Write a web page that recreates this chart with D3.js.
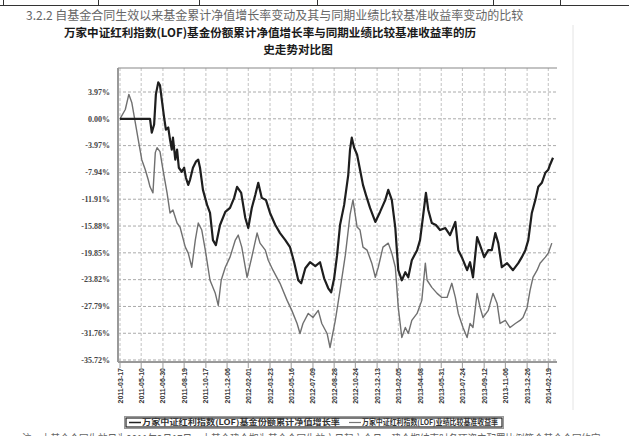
<!DOCTYPE html>
<html>
<head>
<meta charset="utf-8">
<script src="https://cdn.jsdelivr.net/npm/d3@7"></script>
<style>
  body { margin: 0; background: #fff; }
  svg { display: block; }
</style>
</head>
<body>
<script>
// axis ticks
const yTicks = [3.97, 0, -3.97, -7.94, -11.91, -15.88, -19.85, -23.82, -27.79, -31.76, -35.72];
const yTickLabels = ["3.97%", "0.00%", "-3.97%", "-7.94%", "-11.91%", "-15.88%", "-19.85%", "-23.82%", "-27.79%", "-31.76%", "-35.72%"];
const xTickDays = [0, 36, 73, 109, 146, 182, 218, 255, 291, 328, 364, 400, 437, 473, 510, 546, 582, 619, 655, 692, 728];
const xTickLabels = ["2011-03-17", "2011-05-10", "2011-06-30", "2011-08-19", "2011-10-17", "2011-12-06",
  "2012-02-01", "2012-03-23", "2012-05-16", "2012-07-09", "2012-08-28", "2012-10-24", "2012-12-13",
  "2013-02-05", "2013-04-08", "2013-05-31", "2013-07-24", "2013-09-12", "2013-11-06", "2013-12-26", "2014-02-19"];

// fund cumulative NAV growth (%), by trading day
const fundDays = [0, 51, 54, 58, 61, 65, 68, 71, 75, 78, 82, 85, 88, 90, 94, 97, 100, 105, 109, 112, 116, 119, 124, 129, 133, 136,
  141, 148, 153, 158, 163, 170, 179, 187, 194, 199, 206, 213, 218, 224, 230, 235, 241, 248, 255, 264, 272, 281, 289, 296,
  303, 308, 315, 323, 332, 340, 347, 354, 359, 364, 369, 374, 381, 388, 391, 394, 398, 403, 408, 413, 418, 425, 434, 442,
  451, 456, 462, 468, 473, 479, 485, 490, 496, 505, 510, 515, 520, 524, 530, 537, 544, 553, 561, 570, 575, 581, 590, 595,
  600, 607, 612, 619, 626, 632, 638, 643, 649, 658, 668, 677, 683, 689, 694, 700, 706, 711, 717, 723, 728, 731, 736];
const fundValues = [0, 0, -2.04, -0.85, 3.62, 5.40, 4.96, 2.87, 0.19, -1.59, -1.29, -3.08, -4.57, -2.79, -6.05, -4.57, -7.25,
  -7.84, -7.25, -8.73, -9.78, -9.03, -7.25, -6.35, -6.05, -7.25, -10.52, -12.75, -13.94, -17.96, -18.71, -15.73, -13.79,
  -13.20, -11.71, -10.07, -10.97, -14.69, -16.18, -13.20, -11.26, -9.48, -11.71, -12.01, -13.94, -15.73, -16.93, -17.96,
  -19.01, -21.24, -23.92, -24.36, -22.13, -21.24, -21.83, -21.24, -23.62, -25.10, -25.70, -23.62, -20.19, -15.73, -12.75,
  -8.29, -4.57, -2.79, -4.28, -5.31, -7.54, -9.78, -11.26, -13.20, -15.28, -13.79, -12.01, -10.52, -12.01, -16.18, -22.42,
  -23.92, -22.72, -23.47, -20.94, -19.45, -17.96, -14.54, -10.97, -13.50, -15.43, -15.73, -16.47, -16.18, -17.22, -15.28,
  -19.45, -20.49, -22.42, -21.24, -23.47, -17.51, -18.71, -20.49, -19.45, -19.45, -16.92, -18.41, -21.98, -21.38, -22.42,
  -21.38, -20.49, -19.45, -17.96, -13.94, -12.01, -10.07, -9.48, -7.99, -7.54, -6.80, -5.76];

// benchmark return (%), by trading day
const benchDays = [0, 9, 15, 20, 26, 31, 37, 43, 48, 51, 56, 60, 63, 68, 73, 80, 85, 90, 97, 102, 111, 116, 122, 128, 133, 139,
  145, 153, 162, 167, 172, 179, 187, 196, 201, 207, 216, 224, 233, 238, 247, 252, 260, 272, 284, 292, 301, 306, 311, 320,
  328, 337, 343, 352, 357, 366, 374, 383, 391, 396, 403, 408, 413, 420, 428, 434, 439, 447, 456, 462, 468, 473, 479, 485,
  490, 496, 505, 513, 519, 522, 530, 539, 547, 556, 564, 570, 575, 583, 590, 595, 600, 607, 612, 617, 626, 634, 641, 646,
  655, 663, 672, 680, 685, 692, 697, 702, 709, 714, 723, 728, 734];
const benchValues = [0, 1.38, 3.62, 2.43, -0.55, -3.08, -6.06, -7.54, -9.03, -10.07, -10.97, -5.01, -4.27, -4.87, -7.54,
  -10.97, -13.94, -13.50, -15.43, -16.03, -19.01, -19.89, -21.98, -17.96, -15.43, -16.47, -19.45, -23.91, -25.85, -27.63,
  -23.91, -21.98, -20.49, -17.96, -17.22, -19.01, -23.47, -20.49, -16.92, -18.41, -19.45, -20.94, -22.42, -24.36, -26.89,
  -28.37, -30.31, -31.79, -30.31, -28.82, -29.42, -28.37, -30.31, -31.79, -33.87, -29.86, -25.40, -20.19, -14.24, -12.01,
  -16.03, -16.47, -19.01, -19.45, -21.38, -23.47, -21.98, -19.01, -18.41, -19.89, -21.98, -27.93, -32.39, -30.91, -31.79,
  -29.86, -28.82, -26.89, -21.38, -23.91, -24.96, -25.85, -26.45, -26.45, -24.36, -26.45, -28.82, -30.91, -32.39, -30.31,
  -30.91, -25.85, -27.93, -29.42, -28.37, -25.85, -27.34, -30.31, -29.86, -30.91, -30.31, -29.86, -29.42, -27.93, -25.40,
  -23.47, -22.42, -21.38, -20.49, -19.89, -18.41];

const headerText = "3.2.2 自基金合同生效以来基金累计净值增长率变动及其与同期业绩比较基准收益率变动的比较";
const titleLines = ["万家中证红利指数(LOF)基金份额累计净值增长率与同期业绩比较基准收益率的历", "史走势对比图"];
const legendNames = ["万家中证红利指数(LOF)基金份额累计净值增长率", "万家中证红利指数(LOF)业绩比较基准收益率"];
const footText = "注：本基金合同生效日为2011年3月17日，本基金建仓期为基金合同生效之日起六个月，建仓期结束时各项资产配置比例符合基金合同约定。";

const width = 629;
const height = 436;
const plotLeft = 118, plotRight = 557, plotTop = 68, plotBottom = 362;

const svg = d3.select("body").append("svg").attr("width", width).attr("height", height);

// table remnant at the very top
svg.append("line").attr("x1", 0).attr("x2", width).attr("y1", 5.5).attr("y2", 5.5)
  .attr("stroke", "#333").attr("stroke-width", 1);
[3, 98, 199, 317, 493, 560].forEach((x) => {
  svg.append("line").attr("x1", x + 0.5).attr("x2", x + 0.5).attr("y1", 0).attr("y2", 5.5)
    .attr("stroke", "#333").attr("stroke-width", 1);
});

// header
svg.append("text").attr("x", 26).attr("y", 19.5)
  .attr("font-family", "'Noto Sans CJK SC', sans-serif").attr("font-size", 12)
  .attr("fill", "#666").text(headerText);

// chart title
svg.append("text").attr("x", 270).attr("y", 36.5).attr("text-anchor", "middle")
  .attr("font-family", "'Noto Sans CJK SC', sans-serif").attr("font-weight", 700).attr("font-size", 11.6)
  .attr("fill", "#1a1a1a").attr("textLength", 412).attr("lengthAdjust", "spacingAndGlyphs").text(titleLines[0]);
svg.append("text").attr("x", 298).attr("y", 53.5).attr("text-anchor", "middle")
  .attr("font-family", "'Noto Sans CJK SC', sans-serif").attr("font-weight", 700).attr("font-size", 11.6)
  .attr("fill", "#1a1a1a").text(titleLines[1]);

// scales
const xScale = d3.scaleLinear().domain([0, 736]).range([120, 553]);
const yScale = d3.scaleLinear().domain([-35.72, 3.97]).range([360, 92]);

// grid
svg.append("g").selectAll("line").data(yTicks).enter().append("line")
  .attr("x1", plotLeft).attr("x2", plotRight)
  .attr("y1", (d) => yScale(d)).attr("y2", (d) => yScale(d))
  .attr("stroke", "#aaa").attr("stroke-width", 1).attr("stroke-dasharray", "3,2");
svg.append("g").selectAll("line").data(xTickDays).enter().append("line")
  .attr("x1", (d) => xScale(d)).attr("x2", (d) => xScale(d))
  .attr("y1", plotTop).attr("y2", plotBottom)
  .attr("stroke", "#bbb").attr("stroke-width", 0.9).attr("stroke-dasharray", "3,2");

// frame
svg.append("line").attr("x1", plotLeft).attr("x2", plotRight).attr("y1", plotTop).attr("y2", plotTop)
  .attr("stroke", "#888").attr("stroke-width", 1.2);
svg.append("line").attr("x1", plotLeft).attr("x2", plotRight).attr("y1", plotBottom).attr("y2", plotBottom)
  .attr("stroke", "#999").attr("stroke-width", 2);
svg.append("line").attr("x1", plotLeft).attr("x2", plotLeft).attr("y1", plotTop).attr("y2", plotBottom)
  .attr("stroke", "#999").attr("stroke-width", 2);
svg.append("line").attr("x1", 573).attr("x2", 573).attr("y1", 25).attr("y2", 410)
  .attr("stroke", "#e4e4e4").attr("stroke-width", 1);

// y labels
svg.append("g").selectAll("text").data(yTicks).enter().append("text")
  .attr("x", 110).attr("y", (d) => yScale(d) + 2.8).attr("text-anchor", "end")
  .attr("font-family", "'Liberation Serif', serif").attr("font-weight", 700).attr("font-size", 8)
  .attr("fill", "#444").text((d, i) => yTickLabels[i]);

// x ticks and labels
svg.append("g").selectAll("line").data(xTickDays).enter().append("line")
  .attr("x1", (d) => xScale(d)).attr("x2", (d) => xScale(d))
  .attr("y1", plotBottom).attr("y2", plotBottom + 6)
  .attr("stroke", "#999").attr("stroke-width", 1);
svg.append("g").selectAll("text").data(xTickDays).enter().append("text")
  .attr("transform", (d) => "translate(" + (xScale(d) + 2.5) + "," + (plotBottom + 6) + ") rotate(-90)")
  .attr("text-anchor", "end")
  .attr("font-family", "'Liberation Sans', sans-serif").attr("font-weight", 700).attr("font-size", 7)
  .attr("fill", "#333").text((d, i) => xTickLabels[i]);

// lines
const line = d3.line().x((d) => xScale(d[0])).y((d) => yScale(d[1]));
svg.append("path").datum(d3.zip(benchDays, benchValues)).attr("d", line)
  .attr("fill", "none").attr("stroke", "#707070").attr("stroke-width", 1.4).attr("stroke-linejoin", "round");
svg.append("path").datum(d3.zip(fundDays, fundValues)).attr("d", line)
  .attr("fill", "none").attr("stroke", "#1e1e1e").attr("stroke-width", 2.2).attr("stroke-linejoin", "round");

// legend
const legend = svg.append("g");
legend.append("rect").attr("x", 124.5).attr("y", 416.5).attr("width", 379).attr("height", 12)
  .attr("fill", "#fff").attr("stroke", "#999").attr("stroke-width", 1);
legend.append("rect").attr("x", 126).attr("y", 418).attr("width", 376).attr("height", 9)
  .attr("fill", "none").attr("stroke", "#222").attr("stroke-width", 1.2);
legend.append("line").attr("x1", 129).attr("x2", 141).attr("y1", 422.5).attr("y2", 422.5)
  .attr("stroke", "#222").attr("stroke-width", 1.5);
legend.append("text").attr("x", 142).attr("y", 425.3)
  .attr("font-family", "'Noto Sans CJK SC', sans-serif").attr("font-weight", 700).attr("font-size", 7.5)
  .attr("fill", "#333").attr("textLength", 198).attr("lengthAdjust", "spacingAndGlyphs").text(legendNames[0]);
legend.append("line").attr("x1", 349).attr("x2", 361).attr("y1", 422.5).attr("y2", 422.5)
  .attr("stroke", "#777").attr("stroke-width", 1.2);
legend.append("text").attr("x", 362).attr("y", 425.3)
  .attr("font-family", "'Noto Sans CJK SC', sans-serif").attr("font-weight", 700).attr("font-size", 7.5)
  .attr("fill", "#333").attr("textLength", 136).attr("lengthAdjust", "spacingAndGlyphs").text(legendNames[1]);

// footnote, cut off by the bottom edge as in the source page
svg.append("text").attr("x", 22).attr("y", 443.5)
  .attr("font-family", "'Noto Sans CJK SC', sans-serif").attr("font-size", 12)
  .attr("fill", "#666").attr("textLength", 588).attr("lengthAdjust", "spacingAndGlyphs").text(footText);
</script>
</body>
</html>
